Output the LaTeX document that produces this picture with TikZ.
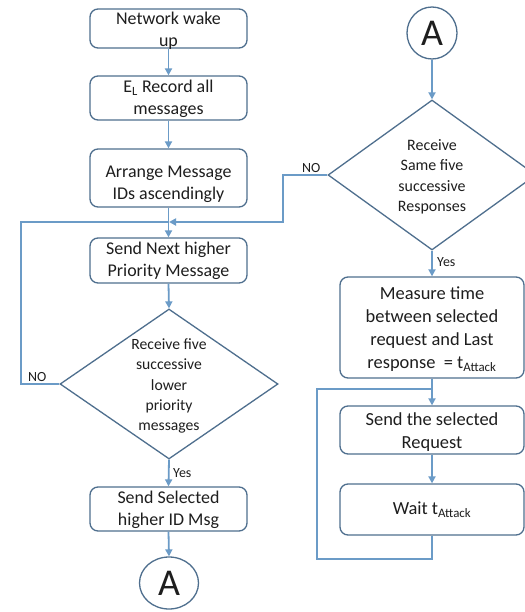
\documentclass[tikz,border=0pt]{standalone}
\usepackage{fontspec}
\setmainfont{Carlito}
\usetikzlibrary{shapes.geometric,arrows.meta}
\definecolor{bord}{HTML}{4F6F8E}
\definecolor{connc}{HTML}{6B9BC7}
\definecolor{txtc}{HTML}{1E1E1E}
\begin{document}
\begin{tikzpicture}[x=1bp,y=-1bp,
  box/.style={draw=bord, line width=1.3bp, rounded corners=8bp, fill=white, inner sep=0pt},
  dia/.style={draw=bord, line width=1.3bp, diamond, fill=white, inner sep=0pt},
  circ/.style={draw=bord, line width=1.3bp, ellipse, fill=white, inner sep=0pt, text=txtc, font=\fontsize{38}{40}\selectfont},
  btxt/.style={text=txtc, align=center, inner sep=0pt, font=\fontsize{18}{22}\selectfont},
  mtxt/.style={text=txtc, align=center, inner sep=0pt, font=\fontsize{18.5}{23}\selectfont},
  dtxt/.style={text=txtc, align=center, inner sep=0pt, font=\fontsize{15.7}{20.5}\selectfont},
  lab/.style={text=txtc, inner sep=0pt, font=\fontsize{14}{16}\selectfont},
  conn/.style={draw=connc, line width=1.8bp},
  arr/.style={conn, -{Triangle[width=7bp,length=7bp]}}]
\useasboundingbox (0,0) rectangle (525,612);
\clip (0,0) rectangle (525,612);
\fill[white] (0,0) rectangle (525,612);

% left column
\node[box, minimum width=157bp, minimum height=39bp] (b1) at (168.5,28.5) {};
\node[btxt] (b1t) at (168.5,31) {Network wake\\up};
\node[box, minimum width=157bp, minimum height=44bp] (b2) at (168.5,98) {};
\node[btxt] (b2t) at (168.5,99) {E\textsubscript{L} Record all\\messages};
\node[box, minimum width=157bp, minimum height=58bp] (b3) at (168.5,178) {};
\node[btxt] (b3t) at (168.5,184) {Arrange Message\\IDs ascendingly};
\node[box, minimum width=157bp, minimum height=45bp] (b4) at (168.5,260.5) {};
\node[btxt] (b4t) at (168.5,261) {Send Next higher\\Priority Message};
\node[dia, minimum width=218bp, minimum height=150bp] (d1) at (169,384) {};
\node[dtxt] (d1t) at (169,386) {Receive five\\successive\\lower\\priority\\messages};
\node[box, minimum width=157bp, minimum height=44bp] (b5) at (168.5,509) {};
\node[btxt] (b5t) at (168.5,510) {Send Selected\\higher ID Msg};
\node[circ, minimum width=59bp, minimum height=52bp] (a2) at (169,583) {A};

% right column
\node[circ, minimum width=50bp, minimum height=52bp] (a1) at (432,33) {A};
\node[dia, minimum width=208bp, minimum height=150bp] (d2) at (432,175) {};
\node[dtxt, font=\fontsize{16}{20.5}\selectfont] (d2t) at (432,177) {Receive\\Same five\\successive\\Responses};
\node[box, minimum width=184bp, minimum height=101bp] (m) at (432,327.5) {};
\node[mtxt] (mt) at (432,329) {Measure time\\between selected\\request and Last\\response~ = t\textsubscript{Attack}};
\node[box, minimum width=184bp, minimum height=48bp] (s) at (432,430) {};
\node[btxt, font=\fontsize{18.5}{23}\selectfont] (st) at (432,432) {Send the selected\\Request};
\node[box, minimum width=184bp, minimum height=51bp] (w) at (432,509.5) {};
\node[btxt, font=\fontsize{18.5}{23}\selectfont] (wt) at (432,509.5) {Wait t\textsubscript{Attack}};

% coordinates
\coordinate (j) at (169,222);
\coordinate (l1) at (21,222);
\coordinate (r1) at (283,222);
\coordinate (q1) at (432,559);
\coordinate (q2) at (317,389);
\coordinate (q3) at (432,389);

% left connectors
\draw[arr] (b1.south) -- (b2.north);
\draw[arr] (b2.south) -- (b3.north);
\draw[arr] (b3.south) -- (b4.north);
\draw[arr] (b4.south) -- (d1.north);
\draw[arr] (d1.south) -- (b5.north);
\draw[arr] (b5.south) -- (a2.north);
\draw[conn] (d1.west) -| (l1) -- (j);
\node[lab, anchor=south west] (no1) at (28,382) {NO};
\node[lab, anchor=west] (yes1) at (173,473) {Yes};

% right connectors
\draw[arr] (a1.south) -- (d2.north);
\draw[arr] (d2.south) -- (m.north);
\draw[arr] (d2.west) -| (r1) -- (j);
\draw[arr] (m.south) -- (s.north);
\draw[arr] (s.south) -- (w.north);
\draw[conn] (w.south) -- (q1) -| (q2) -- (q3);
\node[lab, anchor=south west] (no2) at (302,173) {NO};
\node[lab, anchor=west] (yes2) at (437,262) {Yes};
\end{tikzpicture}
\end{document}
